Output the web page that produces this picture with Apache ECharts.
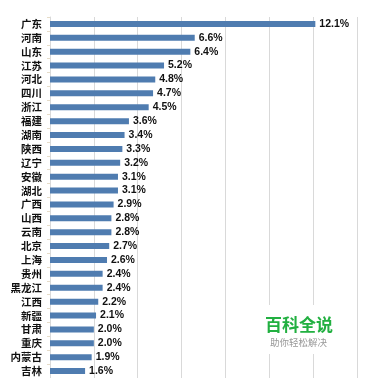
<!DOCTYPE html>
<html><head><meta charset="utf-8">
<script src="https://cdn.jsdelivr.net/npm/echarts@6/dist/echarts.min.js"></script>
<style>html,body{margin:0;padding:0;background:#fff}#c{width:371px;height:378px}</style>
</head><body><div id="c"></div>
<script>
var provinces = ['广东','河南','山东','江苏','河北','四川','浙江','福建','湖南','陕西','辽宁','安徽','湖北','广西','山西','云南','北京','上海','贵州','黑龙江','江西','新疆','甘肃','重庆','内蒙古','吉林'];
var shares = [12.1,6.6,6.4,5.2,4.8,4.7,4.5,3.6,3.4,3.3,3.2,3.1,3.1,2.9,2.8,2.8,2.7,2.6,2.4,2.4,2.2,2.1,2.0,2.0,1.9,1.6];
var watermarkTitle = '百科全说';
var watermarkSub = '助你轻松解决';

var chart = echarts.init(document.getElementById('c'));
chart.setOption({
  animation: false,
  backgroundColor: '#fff',
  grid: {left: 50, right: 14, top: 17, bottom: 0},
  xAxis: {
    type: 'value', min: 0, max: 14, interval: 2,
    axisLabel: {show: false}, axisTick: {show: false}, axisLine: {show: false},
    splitLine: {lineStyle: {color: '#d9d9d9', width: 1}}
  },
  yAxis: {
    type: 'category', inverse: true, data: provinces,
    axisLine: {lineStyle: {color: '#d9d9d9'}},
    axisTick: {show: true, length: 3, lineStyle: {color: '#e6dcc8'}},
    axisLabel: {color: '#111', fontWeight: 'bold', fontSize: 10.5, fontFamily: 'Noto Sans CJK SC', margin: 8}
  },
  series: [{
    type: 'bar', data: shares, barWidth: 6,
    itemStyle: {color: '#4f7cb0'},
    label: {show: true, position: 'right', distance: 4, color: '#111', fontWeight: 'bold', fontSize: 10.5, fontFamily: 'Liberation Sans',
      formatter: function(p){ return p.value.toFixed(1) + '%'; }}
  }],
  graphic: [
    {type: 'rect', left: 258, top: 305, shape: {width: 82, height: 49}, style: {fill: '#fff'}, z: 100},
    {type: 'text', left: 265, top: 316, z: 101, style: {text: watermarkTitle, fill: '#22b041', font: 'bold 17px "Noto Sans CJK SC"'}},
    {type: 'text', left: 270, top: 338, z: 101, style: {text: watermarkSub, fill: '#999', font: '9.5px "Noto Sans CJK SC"'}}
  ]
});
</script></body></html>
